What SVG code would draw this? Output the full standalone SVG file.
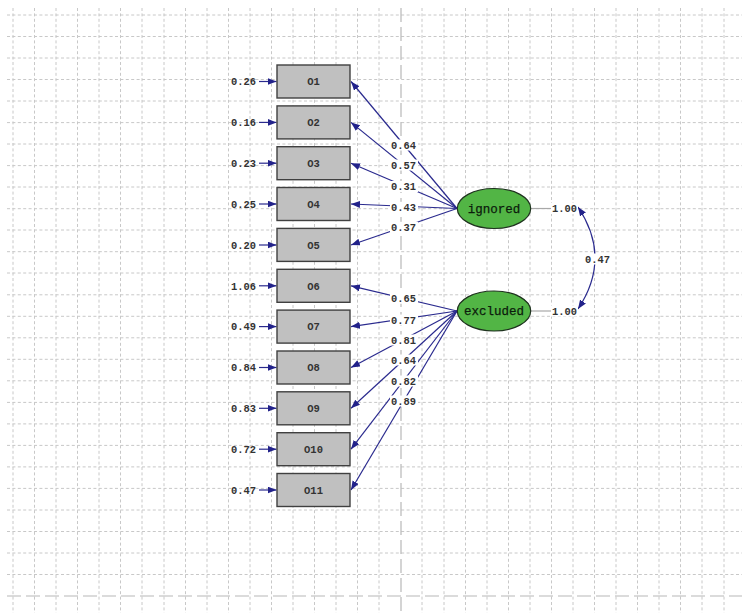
<svg xmlns="http://www.w3.org/2000/svg" width="742" height="613" viewBox="0 0 742 613">
<style>
.bg{fill:#ffffff}
.grid{stroke:#c8c8c8;stroke-width:1;stroke-dasharray:3 2.4;fill:none}
.major{stroke:#b8b8b8;stroke-width:1.2;stroke-dasharray:14 5;fill:none}
.obs rect{fill:#c0c0c0;stroke:#404040;stroke-width:1.4}
.obs text{font-family:"Liberation Mono",monospace;font-size:10.5px;font-weight:bold;fill:#333333;text-anchor:middle}
.lat ellipse{fill:#52b545;stroke:#1f321f;stroke-width:1.2}
.lat text{font-family:"Liberation Mono",monospace;font-size:12.5px;fill:#0c1c0c;text-anchor:middle;stroke:#0c1c0c;stroke-width:0.25}
.edge{stroke:#2a2a8e;stroke-width:1.2;fill:none;marker-end:url(#ah)}
.lbl{font-family:"Liberation Mono",monospace;font-size:10.4px;font-weight:bold;fill:#333333}
.lblbg{fill:#ffffff}
.gray{stroke:#a8a8a8;stroke-width:1.2}
</style>
<defs>
<marker id="ah" markerUnits="userSpaceOnUse" markerWidth="10" markerHeight="8" refX="9" refY="3.5" orient="auto-start-reverse">
<path d="M0,0 L9,3.5 L0,7 z" fill="#22228a"/>
</marker>
</defs>
<rect class="bg" x="0" y="0" width="742" height="613"/>
<g id="grid">
<path class="grid" d="M13,8V613M34.5,8V613M56,8V613M77.5,8V613M99,8V613M120.5,8V613M142,8V613M164,8V613M185.5,8V613M207,8V613M228.5,8V613M250,8V613M271.5,8V613M293,8V613M314.5,8V613M336,8V613M357.5,8V613M379,8V613M422,8V613M444,8V613M465.5,8V613M487,8V613M508.5,8V613M530,8V613M551.5,8V613M573,8V613M594.5,8V613M616,8V613M637.5,8V613M659,8V613M680.5,8V613M702,8V613M724,8V613"/>
<path class="grid" d="M7,15H742M7,36.5H742M7,58H742M7,79.5H742M7,101H742M7,122.6H742M7,144H742M7,165.6H742M7,187H742M7,208.7H742M7,230H742M7,251.7H742M7,273H742M7,294.8H742M7,316.3H742M7,337.8H742M7,359.3H742M7,380.8H742M7,402.4H742M7,423.9H742M7,445.4H742M7,466.9H742M7,488.4H742M7,510H742M7,531.5H742M7,553H742M7,574.5H742"/>
<path class="major" d="M401,8V613M7,596H742"/>
</g>
<g id="connectors">
<g id="errors">
<line class="edge" x1="259" y1="81.5" x2="276.5" y2="81.5"/>
<line class="edge" x1="259" y1="122.4" x2="276.5" y2="122.4"/>
<line class="edge" x1="259" y1="163.2" x2="276.5" y2="163.2"/>
<line class="edge" x1="259" y1="204" x2="276.5" y2="204"/>
<line class="edge" x1="259" y1="245" x2="276.5" y2="245"/>
<line class="edge" x1="259" y1="285.8" x2="276.5" y2="285.8"/>
<line class="edge" x1="259" y1="326.6" x2="276.5" y2="326.6"/>
<line class="edge" x1="259" y1="367.5" x2="276.5" y2="367.5"/>
<line class="edge" x1="259" y1="408.3" x2="276.5" y2="408.3"/>
<line class="edge" x1="259" y1="449.2" x2="276.5" y2="449.2"/>
<line class="edge" x1="259" y1="490" x2="276.5" y2="490"/>
</g>
<g id="loadings">
<line class="edge" x1="457" y1="208.5" x2="351" y2="81.5"/>
<line class="edge" x1="457" y1="208.5" x2="351" y2="122.4"/>
<line class="edge" x1="457" y1="208.5" x2="351" y2="163.2"/>
<line class="edge" x1="457" y1="208.5" x2="351" y2="204"/>
<line class="edge" x1="457" y1="208.5" x2="351" y2="245"/>
<line class="edge" x1="457" y1="311" x2="351" y2="285.8"/>
<line class="edge" x1="457" y1="311" x2="351" y2="326.6"/>
<line class="edge" x1="457" y1="311" x2="351" y2="367.5"/>
<line class="edge" x1="457" y1="311" x2="351" y2="408.3"/>
<line class="edge" x1="457" y1="311" x2="351" y2="449.2"/>
<line class="edge" x1="457" y1="311" x2="351" y2="490"/>
</g>
<g id="variances">
<line class="gray" x1="531" y1="208.5" x2="551" y2="208.5"/>
<line class="gray" x1="531" y1="311" x2="551" y2="311"/>
</g>
<path id="covariance" class="edge" style="marker-start:url(#ah)" d="M578,207 Q612,258 578,309"/>
</g>
<g id="labels">
<rect class="lblbg" x="390" y="139.5" width="28" height="11"/><text class="lbl" x="391" y="148.8">0.64</text>
<rect class="lblbg" x="390" y="159.5" width="28" height="11"/><text class="lbl" x="391" y="168.8">0.57</text>
<rect class="lblbg" x="390" y="181" width="28" height="11"/><text class="lbl" x="391" y="190.3">0.31</text>
<rect class="lblbg" x="390" y="201.8" width="28" height="11"/><text class="lbl" x="391" y="211.1">0.43</text>
<rect class="lblbg" x="390" y="221.8" width="28" height="11"/><text class="lbl" x="391" y="231.1">0.37</text>
<rect class="lblbg" x="390" y="292.8" width="28" height="11"/><text class="lbl" x="391" y="302.1">0.65</text>
<rect class="lblbg" x="390" y="314.5" width="28" height="11"/><text class="lbl" x="391" y="323.8">0.77</text>
<rect class="lblbg" x="390" y="334.5" width="28" height="11"/><text class="lbl" x="391" y="343.8">0.81</text>
<rect class="lblbg" x="390" y="354.5" width="28" height="11"/><text class="lbl" x="391" y="363.8">0.64</text>
<rect class="lblbg" x="390" y="375.5" width="28" height="11"/><text class="lbl" x="391" y="384.8">0.82</text>
<rect class="lblbg" x="390" y="395.5" width="28" height="11"/><text class="lbl" x="391" y="404.8">0.89</text>
<rect class="lblbg" x="551" y="203" width="27" height="11"/><text class="lbl" x="552" y="212.3">1.00</text>
<rect class="lblbg" x="551" y="305.5" width="27" height="11"/><text class="lbl" x="552" y="314.8">1.00</text>
<rect class="lblbg" x="584" y="253.5" width="28" height="11"/><text class="lbl" x="585" y="262.8">0.47</text>
<text class="lbl" x="231" y="85.3">0.26</text>
<text class="lbl" x="231" y="126.2">0.16</text>
<text class="lbl" x="231" y="167">0.23</text>
<text class="lbl" x="231" y="207.8">0.25</text>
<text class="lbl" x="231" y="248.8">0.20</text>
<text class="lbl" x="231" y="289.6">1.06</text>
<text class="lbl" x="231" y="330.4">0.49</text>
<text class="lbl" x="231" y="371.3">0.84</text>
<text class="lbl" x="231" y="412.1">0.83</text>
<text class="lbl" x="231" y="453">0.72</text>
<text class="lbl" x="231" y="493.8">0.47</text>
</g>
<g id="O1" class="obs"><rect x="277" y="65" width="73" height="33"/><text x="313.5" y="85.2">O1</text></g>
<g id="O2" class="obs"><rect x="277" y="105.9" width="73" height="33"/><text x="313.5" y="126.1">O2</text></g>
<g id="O3" class="obs"><rect x="277" y="146.7" width="73" height="33"/><text x="313.5" y="166.9">O3</text></g>
<g id="O4" class="obs"><rect x="277" y="187.5" width="73" height="33"/><text x="313.5" y="207.7">O4</text></g>
<g id="O5" class="obs"><rect x="277" y="228.4" width="73" height="33"/><text x="313.5" y="248.6">O5</text></g>
<g id="O6" class="obs"><rect x="277" y="269.3" width="73" height="33"/><text x="313.5" y="289.5">O6</text></g>
<g id="O7" class="obs"><rect x="277" y="310.1" width="73" height="33"/><text x="313.5" y="330.3">O7</text></g>
<g id="O8" class="obs"><rect x="277" y="351" width="73" height="33"/><text x="313.5" y="371.2">O8</text></g>
<g id="O9" class="obs"><rect x="277" y="391.8" width="73" height="33"/><text x="313.5" y="412">O9</text></g>
<g id="O10" class="obs"><rect x="277" y="432.7" width="73" height="33"/><text x="313.5" y="452.9">O10</text></g>
<g id="O11" class="obs"><rect x="277" y="473.5" width="73" height="33"/><text x="313.5" y="493.7">O11</text></g>
<g id="ignored" class="lat"><ellipse cx="494" cy="208.5" rx="36.7" ry="20"/><text x="494" y="212.8">ignored</text></g>
<g id="excluded" class="lat"><ellipse cx="494" cy="311" rx="36.7" ry="20"/><text x="494" y="315.3">excluded</text></g>
</svg>
